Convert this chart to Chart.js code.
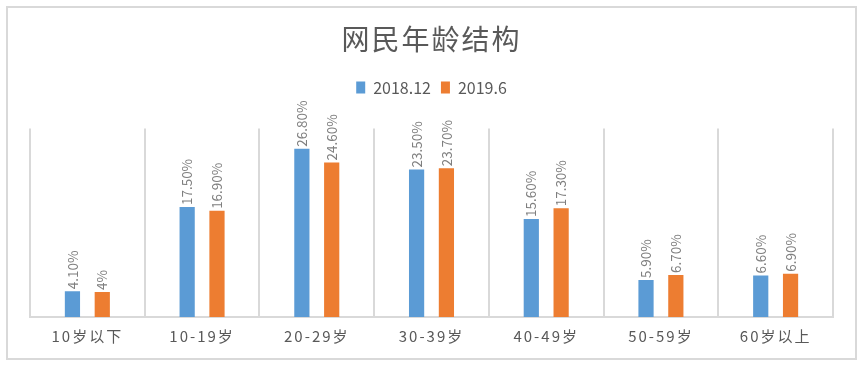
<!DOCTYPE html>
<html>
<head>
<meta charset="utf-8">
<script src="https://cdn.jsdelivr.net/npm/chart.js@4/dist/chart.umd.min.js"></script>
<style>
  body { margin: 0; background: #fff; }
  #wrap { width: 863px; height: 366px; position: relative; }
</style>
</head>
<body>
<div id="wrap"><canvas id="chart" width="863" height="366"></canvas></div>
<script>
// dados do gráfico
const categorias = ['10岁以下', '10-19岁', '20-29岁', '30-39岁', '40-49岁', '50-59岁', '60岁以上'];
const serie2018 = [4.1, 17.5, 26.8, 23.5, 15.6, 5.9, 6.6];
const serie2019 = [4.0, 16.9, 24.6, 23.7, 17.3, 6.7, 6.9];
const rotulos2018 = ['4.10%', '17.50%', '26.80%', '23.50%', '15.60%', '5.90%', '6.60%'];
const rotulos2019 = ['4%', '16.90%', '24.60%', '23.70%', '17.30%', '6.70%', '6.90%'];

const fonte = '"Noto Sans CJK SC", "Noto Sans", sans-serif';

// moldura cinza em volta do gráfico
const moldura = {
    id: 'moldura',
    beforeDraw: function(chart) {
        const ctx = chart.ctx;
        ctx.save();
        ctx.fillStyle = '#fff';
        ctx.fillRect(0, 0, chart.width, chart.height);
        ctx.strokeStyle = '#d9d9d9';
        ctx.lineWidth = 2;
        ctx.strokeRect(7, 7, 849, 352);
        ctx.restore();
    }
};

// espaçamento das letras só no título e nos rótulos do eixo x
function comEspaco(obj, metodo) {
    if (!obj || obj['_espaco_' + metodo]) return;
    const original = obj[metodo];
    obj[metodo] = function() {
        const c = this.ctx;
        const antes = c.letterSpacing;
        c.letterSpacing = '2px';
        original.apply(this, arguments);
        c.letterSpacing = antes;
    };
    obj['_espaco_' + metodo] = true;
}
const espacamento = {
    id: 'espacamento',
    afterLayout: function(chart) {
        comEspaco(chart.scales.x, 'drawLabels');
        comEspaco(chart.titleBlock, 'draw');
    }
};

// espaço extra embaixo da legenda
const espacoLegenda = {
    id: 'espacoLegenda',
    beforeInit: function(chart) {
        const fitOriginal = chart.legend.fit;
        chart.legend.fit = function() {
            fitOriginal.bind(chart.legend)();
            this.height += 23;
        };
    }
};

// rótulos verticais em cima das barras
const rotulosBarras = {
    id: 'rotulosBarras',
    afterDatasetsDraw: function(chart) {
        const ctx = chart.ctx;
        const todos = [rotulos2018, rotulos2019];
        chart.data.datasets.forEach(function(ds, i) {
            const meta = chart.getDatasetMeta(i);
            meta.data.forEach(function(bar, j) {
                ctx.save();
                ctx.translate(bar.x, bar.y - 2);
                ctx.rotate(-Math.PI / 2);
                ctx.font = '13.5px ' + fonte;
                ctx.fillStyle = '#7f7f7f';
                ctx.textAlign = 'left';
                ctx.textBaseline = 'middle';
                ctx.fillText(todos[i][j], 0, 0);
                ctx.restore();
            });
        });
    }
};

const ctx = document.getElementById('chart').getContext('2d');
const chart = new Chart(ctx, {
    type: 'bar',
    data: {
        labels: categorias,
        datasets: [
            {
                label: '2018.12',
                data: serie2018,
                backgroundColor: '#5b9bd5',
                categoryPercentage: 0.52,
                barPercentage: 0.51
            },
            {
                label: '2019.6',
                data: serie2019,
                backgroundColor: '#ed7d31',
                categoryPercentage: 0.52,
                barPercentage: 0.51
            }
        ]
    },
    options: {
        responsive: false,
        animation: false,
        layout: { padding: { left: 30, right: 30, top: 17, bottom: 11 } },
        plugins: {
            title: {
                display: true,
                text: '网民年龄结构',
                color: '#595959',
                font: { family: fonte, size: 28, weight: 'normal' },
                padding: { top: 6, bottom: 13 }
            },
            legend: {
                display: true,
                labels: {
                    color: '#595959',
                    font: { family: fonte, size: 16 },
                    boxWidth: 9,
                    boxHeight: 12,
                    padding: 10
                }
            },
            tooltip: { enabled: false }
        },
        scales: {
            x: {
                grid: { display: true, color: '#d9d9d9', lineWidth: 2, drawTicks: false, offset: true },
                border: { display: true, color: '#d9d9d9', width: 2 },
                ticks: { color: '#595959', font: { family: fonte, size: 15 }, padding: 10 }
            },
            y: {
                display: false,
                min: 0,
                max: 30
            }
        }
    },
    plugins: [moldura, espacamento, espacoLegenda, rotulosBarras]
});
</script>
</body>
</html>
